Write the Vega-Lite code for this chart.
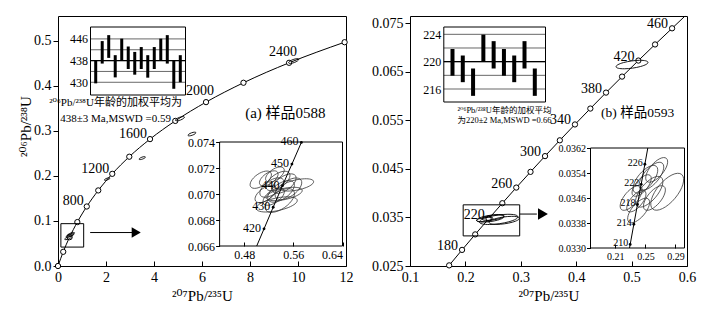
{
 "$schema": "https://vega.github.io/schema/vega-lite/v6.json",
 "padding": {"left": 17, "top": 13, "right": 5, "bottom": 4},
 "background": "white",
 "spacing": 64,
 "bounds": "flush",
 "config": {
  "view": {"stroke": "black", "strokeWidth": 1},
  "axis": {"labelFont": "Liberation Serif", "titleFont": "Liberation Serif, DejaVu Serif", "labelColor": "black", "titleColor": "black", "tickColor": "black", "domain": false, "grid": false, "titleFontWeight": "normal", "zindex": 1, "labelFontSize": 14, "titleFontSize": 15},
  "text": {"font": "Liberation Serif, DejaVu Serif, Noto Sans CJK SC", "color": "black"},
  "point": {"opacity": 1}
 },
 "datasets": {
  "concA": [
   {"age": 0, "x": 0, "y": 0},
   {"age": 200, "x": 0.2177, "y": 0.0315},
   {"age": 400, "x": 0.4828, "y": 0.0640},
   {"age": 600, "x": 0.8056, "y": 0.0975},
   {"age": 800, "x": 1.1988, "y": 0.1321},
   {"age": 1000, "x": 1.6774, "y": 0.1678},
   {"age": 1200, "x": 2.2603, "y": 0.2046},
   {"age": 1400, "x": 2.9701, "y": 0.2426},
   {"age": 1600, "x": 3.8344, "y": 0.2817},
   {"age": 1800, "x": 4.8867, "y": 0.3221},
   {"age": 2000, "x": 6.1681, "y": 0.3638},
   {"age": 2200, "x": 7.7284, "y": 0.4068},
   {"age": 2400, "x": 9.6283, "y": 0.4511},
   {"age": 2600, "x": 11.942, "y": 0.4968}
  ],
  "ellA": [
   {"x": 9.82, "y": 0.455, "w": 0.45},
   {"x": 5.08, "y": 0.327, "w": 0.4},
   {"x": 5.58, "y": 0.293, "w": 0.35},
   {"x": 3.51, "y": 0.2395, "w": 0.28},
   {"x": 2.05, "y": 0.193, "w": 0.25},
   {"x": 0.42, "y": 0.062, "w": 0.3},
   {"x": 0.5, "y": 0.068, "w": 0.35},
   {"x": 0.55, "y": 0.071, "w": 0.3}
  ],
  "boxA": [{"x": 0.12, "x2": 1.07, "y": 0.042, "y2": 0.094}],
  "arrowA": [{"x": 1.34, "y": 0.0743}, {"x": 3.12, "y": 0.0743}],
  "headA": [{"x": 3.26, "y": 0.0743}],
  "titleA": [{"x": 7.8, "y": 0.3405, "t": "(a) 样品0588"}],
  "capA": [
   {"x": 2.4, "y": 0.3623, "t": "²⁰⁶Pb/²³⁸U年龄的加权平均为"},
   {"x": 2.4, "y": 0.326, "t": "438±3 Ma,MSWD =0.59"}
  ],
  "barsA": [
   {"x": 1, "y": 429.6, "y2": 438},
   {"x": 2, "y": 436.9, "y2": 445.2},
   {"x": 3, "y": 439, "y2": 447.4},
   {"x": 4, "y": 431.8, "y2": 440},
   {"x": 5, "y": 438, "y2": 446.1},
   {"x": 6, "y": 434.9, "y2": 443.2},
   {"x": 7, "y": 432.8, "y2": 441.2},
   {"x": 8, "y": 434.9, "y2": 443},
   {"x": 9, "y": 431.7, "y2": 440},
   {"x": 10, "y": 434.9, "y2": 443},
   {"x": 11, "y": 438, "y2": 446.1},
   {"x": 12, "y": 436.9, "y2": 447.4},
   {"x": 13, "y": 427.6, "y2": 438},
   {"x": 14, "y": 430, "y2": 440}
  ],
  "gridA": [
   {"x": 0.2, "x2": 14.8, "y": 430},
   {"x": 0.2, "x2": 14.8, "y": 434},
   {"x": 0.2, "x2": 14.8, "y": 438},
   {"x": 0.2, "x2": 14.8, "y": 442},
   {"x": 0.2, "x2": 14.8, "y": 446}
  ],
  "meanA": [{"x": 0.2, "x2": 14.8, "y": 438}],
  "frameBarA": [{"x": 0.2, "x2": 14.8, "y": 425.3, "y2": 450.4}],
  "concIA": [
   {"age": 412, "x": 0.5004, "y": 0.066},
   {"age": 420, "x": 0.5123, "y": 0.06732},
   {"age": 430, "x": 0.5272, "y": 0.06898},
   {"age": 440, "x": 0.5423, "y": 0.07064},
   {"age": 450, "x": 0.5577, "y": 0.0723},
   {"age": 460, "x": 0.5731, "y": 0.07397}
  ],
  "ellIA": [
   {"x": 0.566, "y": 0.0707, "w": 0.055, "k": "f"},
   {"x": 0.533, "y": 0.0692, "w": 0.068, "k": "f"},
   {"x": 0.545, "y": 0.07, "w": 0.06, "k": "f"},
   {"x": 0.507, "y": 0.0711, "w": 0.04, "k": "r"},
   {"x": 0.525, "y": 0.0705, "w": 0.045, "k": "r"},
   {"x": 0.535, "y": 0.071, "w": 0.045, "k": "r"},
   {"x": 0.54, "y": 0.0702, "w": 0.05, "k": "r"},
   {"x": 0.528, "y": 0.0698, "w": 0.04, "k": "r"},
   {"x": 0.545, "y": 0.0708, "w": 0.045, "k": "r"},
   {"x": 0.52, "y": 0.0712, "w": 0.035, "k": "r"},
   {"x": 0.53, "y": 0.0715, "w": 0.035, "k": "r"},
   {"x": 0.515, "y": 0.07, "w": 0.04, "k": "r"},
   {"x": 0.552, "y": 0.0704, "w": 0.05, "k": "r"},
   {"x": 0.538, "y": 0.0695, "w": 0.055, "k": "r"}
  ],
  "frameIA": [{"x": 0.44, "x2": 0.64, "y": 0.066, "y2": 0.074}],
  "concB": [
   {"age": 160, "x": 0.17068, "y": 0.02513},
   {"age": 180, "x": 0.19396, "y": 0.028316},
   {"age": 200, "x": 0.21769, "y": 0.031511},
   {"age": 220, "x": 0.24193, "y": 0.034717},
   {"age": 240, "x": 0.26665, "y": 0.037932},
   {"age": 260, "x": 0.29183, "y": 0.041157},
   {"age": 280, "x": 0.31754, "y": 0.044392},
   {"age": 300, "x": 0.34374, "y": 0.047638},
   {"age": 320, "x": 0.37047, "y": 0.050893},
   {"age": 340, "x": 0.39776, "y": 0.054158},
   {"age": 360, "x": 0.42553, "y": 0.057434},
   {"age": 380, "x": 0.45385, "y": 0.060719},
   {"age": 400, "x": 0.48278, "y": 0.064016},
   {"age": 420, "x": 0.51225, "y": 0.067322},
   {"age": 440, "x": 0.54234, "y": 0.070638},
   {"age": 460, "x": 0.57307, "y": 0.073965},
   {"age": 475, "x": 0.5965, "y": 0.0765}
  ],
  "ellB": [
   {"x": 0.5008, "y": 0.0665, "w": 0.058},
   {"x": 0.245, "y": 0.0348, "w": 0.05},
   {"x": 0.26, "y": 0.0346, "w": 0.07},
   {"x": 0.25, "y": 0.035, "w": 0.04},
   {"x": 0.235, "y": 0.0346, "w": 0.03},
   {"x": 0.27, "y": 0.0344, "w": 0.055}
  ],
  "boxB": [{"x": 0.196, "x2": 0.298, "y": 0.0312, "y2": 0.0376}],
  "arrowB": [{"x": 0.298, "y": 0.0357}, {"x": 0.329, "y": 0.0357}],
  "headB": [{"x": 0.34, "y": 0.0357}],
  "titleB": [{"x": 0.4449, "y": 0.0565, "t": "(b) 样品0593"}],
  "capB": [
   {"x": 0.2705, "y": 0.0572, "t": "²⁰⁶Pb/²³⁸U年龄的加权平均"},
   {"x": 0.2705, "y": 0.0550, "t": "为220±2 Ma,MSWD =0.66"}
  ],
  "barsB": [
   {"x": 1, "y": 217.95, "y2": 221.85},
   {"x": 2, "y": 217.0, "y2": 220.9},
   {"x": 3, "y": 215.0, "y2": 219.0},
   {"x": 4, "y": 220.0, "y2": 223.95},
   {"x": 5, "y": 219.0, "y2": 223.0},
   {"x": 6, "y": 217.95, "y2": 221.85},
   {"x": 7, "y": 217.0, "y2": 220.9},
   {"x": 8, "y": 219.0, "y2": 223.0},
   {"x": 9, "y": 215.0, "y2": 219.0}
  ],
  "gridB": [
   {"x": 0.155, "x2": 10.04, "y": 216},
   {"x": 0.155, "x2": 10.04, "y": 218},
   {"x": 0.155, "x2": 10.04, "y": 220},
   {"x": 0.155, "x2": 10.04, "y": 222},
   {"x": 0.155, "x2": 10.04, "y": 224}
  ],
  "meanB": [{"x": 0.155, "x2": 10.04, "y": 220}],
  "frameBarB": [{"x": 0.155, "x2": 10.04, "y": 214.1, "y2": 225.07}],
  "concIB": [
   {"age": 209, "x": 0.2289, "y": 0.033},
   {"age": 210, "x": 0.22976, "y": 0.033114},
   {"age": 214, "x": 0.23463, "y": 0.03376},
   {"age": 218, "x": 0.23948, "y": 0.034396},
   {"age": 222, "x": 0.24437, "y": 0.035037},
   {"age": 226, "x": 0.24929, "y": 0.03568},
   {"age": 229, "x": 0.2532, "y": 0.0362}
  ],
  "ellIB": [
   {"x": 0.279, "y": 0.0348, "w": 0.06},
   {"x": 0.265, "y": 0.0355, "w": 0.04},
   {"x": 0.25, "y": 0.0352, "w": 0.045},
   {"x": 0.231, "y": 0.0346, "w": 0.04},
   {"x": 0.255, "y": 0.0348, "w": 0.05},
   {"x": 0.241, "y": 0.0342, "w": 0.04},
   {"x": 0.245, "y": 0.035, "w": 0.035},
   {"x": 0.258, "y": 0.0353, "w": 0.045},
   {"x": 0.238, "y": 0.0345, "w": 0.035},
   {"x": 0.262, "y": 0.0346, "w": 0.04}
  ],
  "frameIB": [{"x": 0.177, "x2": 0.302, "y": 0.033, "y2": 0.0362}]
 },
 "hconcat": [
  {
   "width": 288, "height": 250,
   "resolve": {"scale": {"x": "independent", "y": "independent", "size": "independent", "shape": "independent"}},
   "layer": [
    {
     "encoding": {
      "x": {"field": "x", "type": "quantitative", "scale": {"domain": [0, 12], "nice": false, "zero": false},
       "axis": {"orient": "bottom", "values": [0, 2, 4, 6, 8, 10, 12], "format": "d", "tickSize": -5, "labelPadding": 9, "labelFlush": false, "title": "²⁰⁷Pb/²³⁵U", "titlePadding": 4}},
      "y": {"field": "y", "type": "quantitative", "scale": {"domain": [0, 0.555], "nice": false, "zero": false},
       "axis": {"orient": "left", "values": [0, 0.1, 0.2, 0.3, 0.4, 0.5], "format": ".1f", "tickSize": 5, "labelPadding": 2, "title": "²⁰⁶Pb/²³⁸U", "titleX": -33, "titleY": 110, "titleBaseline": "middle", "titleAngle": 270}}
     },
     "layer": [
      {"data": {"name": "concA"}, "mark": {"type": "line", "interpolate": "monotone", "color": "black", "strokeWidth": 1}, "encoding": {}},
      {"data": {"name": "concA"}, "mark": {"type": "point", "shape": "circle", "filled": true, "fill": "white", "stroke": "black", "strokeWidth": 1, "size": 28}, "encoding": {}},
      {"data": {"name": "concA"}, "transform": [{"filter": "datum.age==800||datum.age==1200||datum.age==1600"}], "mark": {"type": "text", "align": "right", "baseline": "middle", "dx": -3, "dy": -5, "fontSize": 14}, "encoding": {"text": {"field": "age", "type": "nominal"}}},
      {"data": {"name": "concA"}, "transform": [{"filter": "datum.age==2000||datum.age==2400"}], "mark": {"type": "text", "align": "center", "baseline": "middle", "dx": -6, "dy": -11, "fontSize": 14}, "encoding": {"text": {"field": "age", "type": "nominal"}}},
      {"data": {"name": "ellA"}, "mark": {"type": "point", "shape": "M-0.94,0.342A1,0.3,-20,1,1,0.94,-0.342A1,0.3,-20,1,1,-0.94,0.342Z", "filled": false, "color": "black", "strokeWidth": 0.9}, "encoding": {"size": {"field": "w", "type": "quantitative", "scale": {"type": "pow", "exponent": 2, "domain": [0, 1], "range": [0, 571]}, "legend": null}}},
      {"data": {"name": "boxA"}, "mark": {"type": "rect", "filled": false, "color": "black", "strokeWidth": 1}, "encoding": {"x2": {"field": "x2"}, "y2": {"field": "y2"}}},
      {"data": {"name": "arrowA"}, "mark": {"type": "line", "color": "black", "strokeWidth": 1}, "encoding": {}},
      {"data": {"name": "headA"}, "mark": {"type": "point", "shape": "triangle-right", "filled": true, "color": "black", "size": 110}, "encoding": {}},
      {"data": {"name": "titleA"}, "mark": {"type": "text", "align": "left", "baseline": "middle", "fontSize": 15}, "encoding": {"text": {"field": "t"}}},
      {"data": {"name": "capA"}, "mark": {"type": "text", "align": "center", "baseline": "middle", "fontSize": 11}, "encoding": {"text": {"field": "t"}}}
     ]
    },
    {
     "encoding": {
      "x": {"field": "x", "type": "quantitative", "scale": {"domain": [0.2, 14.8], "range": [32.5, 127.5], "nice": false, "zero": false}, "axis": null},
      "y": {"field": "y", "type": "quantitative", "scale": {"domain": [425.3, 450.4], "range": [79, 11], "nice": false, "zero": false},
       "axis": {"orient": "left", "offset": -32.5, "values": [430, 438, 446], "ticks": false, "labelPadding": 3, "labelFontSize": 12, "title": null}}
     },
     "layer": [
      {"data": {"name": "gridA"}, "mark": {"type": "rule", "color": "black", "strokeWidth": 0.6}, "encoding": {"x2": {"field": "x2"}}},
      {"data": {"name": "meanA"}, "mark": {"type": "rule", "color": "black", "strokeWidth": 1.2}, "encoding": {"x2": {"field": "x2"}}},
      {"data": {"name": "frameBarA"}, "mark": {"type": "rect", "filled": false, "color": "black", "strokeWidth": 1}, "encoding": {"x2": {"field": "x2"}, "y2": {"field": "y2"}}},
      {"data": {"name": "barsA"}, "mark": {"type": "rule", "color": "black", "strokeWidth": 3}, "encoding": {"y2": {"field": "y2"}}}
     ]
    },
    {
     "encoding": {
      "x": {"field": "x", "type": "quantitative", "scale": {"domain": [0.44, 0.64], "range": [161.6, 284.5], "nice": false, "zero": false},
       "axis": {"orient": "bottom", "offset": -20, "values": [0.48, 0.56, 0.64], "format": ".2f", "tickSize": -4, "labelPadding": 7, "labelFontSize": 12, "labelFlush": true, "title": null}},
      "y": {"field": "y", "type": "quantitative", "scale": {"domain": [0.066, 0.074], "range": [230, 126], "nice": false, "zero": false},
       "axis": {"orient": "left", "offset": -161.6, "values": [0.066, 0.068, 0.07, 0.072, 0.074], "format": ".3f", "tickSize": 4, "labelPadding": 1, "labelFontSize": 12, "title": null}}
     },
     "layer": [
      {"data": {"name": "frameIA"}, "mark": {"type": "rect", "filled": false, "color": "black", "strokeWidth": 1}, "encoding": {"x2": {"field": "x2"}, "y2": {"field": "y2"}}},
      {"data": {"name": "ellIA"}, "mark": {"type": "point", "filled": false, "color": "#333", "strokeWidth": 0.8},
       "encoding": {
        "size": {"field": "w", "type": "quantitative", "scale": {"type": "pow", "exponent": 2, "domain": [0, 0.1], "range": [0, 3776]}, "legend": null},
        "shape": {"field": "k", "type": "nominal", "scale": {"domain": ["r", "f"], "range": ["M-0.819,0.574A1,0.5,-35,1,1,0.819,-0.574A1,0.5,-35,1,1,-0.819,0.574Z", "M-0.978,0.208A1,0.3,-12,1,1,0.978,-0.208A1,0.3,-12,1,1,-0.978,0.208Z"]}, "legend": null}}},
      {"data": {"name": "concIA"}, "mark": {"type": "line", "color": "black", "strokeWidth": 1}, "encoding": {}},
      {"data": {"name": "concIA"}, "transform": [{"filter": "datum.age>=420"}], "mark": {"type": "point", "shape": "circle", "filled": true, "color": "black", "size": 8}, "encoding": {}},
      {"data": {"name": "concIA"}, "transform": [{"filter": "datum.age>=420"}], "mark": {"type": "text", "align": "right", "baseline": "middle", "dx": -3, "dy": -1, "fontSize": 12}, "encoding": {"text": {"field": "age", "type": "nominal"}}}
     ]
    }
   ]
  },
  {
   "width": 277, "height": 250,
   "resolve": {"scale": {"x": "independent", "y": "independent", "size": "independent", "shape": "independent"}},
   "layer": [
    {
     "encoding": {
      "x": {"field": "x", "type": "quantitative", "scale": {"domain": [0.1, 0.6], "nice": false, "zero": false},
       "axis": {"orient": "bottom", "values": [0.1, 0.2, 0.3, 0.4, 0.5, 0.6], "format": ".1f", "tickSize": -5, "labelPadding": 9, "labelFlush": false, "title": "²⁰⁷Pb/²³⁵U", "titlePadding": 4}},
      "y": {"field": "y", "type": "quantitative", "scale": {"domain": [0.025, 0.0765], "nice": false, "zero": false},
       "axis": {"orient": "left", "values": [0.025, 0.035, 0.045, 0.055, 0.065, 0.075], "format": ".3f", "tickSize": 5, "labelPadding": 2, "title": null}}
     },
     "layer": [
      {"data": {"name": "concB"}, "mark": {"type": "line", "interpolate": "monotone", "color": "black", "strokeWidth": 1}, "encoding": {}},
      {"data": {"name": "concB"}, "transform": [{"filter": "datum.age<=460"}], "mark": {"type": "point", "shape": "circle", "filled": true, "fill": "white", "stroke": "black", "strokeWidth": 1, "size": 28}, "encoding": {}},
      {"data": {"name": "concB"}, "transform": [{"filter": "datum.age<=460 && (datum.age-180)%40==0"}], "mark": {"type": "text", "align": "right", "baseline": "middle", "dx": -4, "dy": -4, "fontSize": 14}, "encoding": {"text": {"field": "age", "type": "nominal"}}},
      {"data": {"name": "ellB"}, "mark": {"type": "point", "shape": "M-0.99,0.139A1,0.22,-8,1,1,0.99,-0.139A1,0.22,-8,1,1,-0.99,0.139Z", "filled": false, "color": "black", "strokeWidth": 0.9}, "encoding": {"size": {"field": "w", "type": "quantitative", "scale": {"type": "pow", "exponent": 2, "domain": [0, 0.1], "range": [0, 3069]}, "legend": null}}},
      {"data": {"name": "boxB"}, "mark": {"type": "rect", "filled": false, "color": "black", "strokeWidth": 1}, "encoding": {"x2": {"field": "x2"}, "y2": {"field": "y2"}}},
      {"data": {"name": "arrowB"}, "mark": {"type": "line", "color": "black", "strokeWidth": 1}, "encoding": {}},
      {"data": {"name": "headB"}, "mark": {"type": "point", "shape": "triangle-right", "filled": true, "color": "black", "size": 130}, "encoding": {}},
      {"data": {"name": "titleB"}, "mark": {"type": "text", "align": "left", "baseline": "middle", "fontSize": 13.5}, "encoding": {"text": {"field": "t"}}},
      {"data": {"name": "capB"}, "mark": {"type": "text", "align": "center", "baseline": "middle", "fontSize": 8.5}, "encoding": {"text": {"field": "t"}}}
     ]
    },
    {
     "encoding": {
      "x": {"field": "x", "type": "quantitative", "scale": {"domain": [0.155, 10.04], "range": [33.8, 135.5], "nice": false, "zero": false}, "axis": null},
      "y": {"field": "y", "type": "quantitative", "scale": {"domain": [214.1, 225.07], "range": [86, 11], "nice": false, "zero": false},
       "axis": {"orient": "left", "offset": -33.8, "values": [216, 220, 224], "ticks": false, "labelPadding": 3, "labelFontSize": 12, "title": null}}
     },
     "layer": [
      {"data": {"name": "gridB"}, "mark": {"type": "rule", "color": "black", "strokeWidth": 0.6}, "encoding": {"x2": {"field": "x2"}}},
      {"data": {"name": "meanB"}, "mark": {"type": "rule", "color": "black", "strokeWidth": 1.2}, "encoding": {"x2": {"field": "x2"}}},
      {"data": {"name": "frameBarB"}, "mark": {"type": "rect", "filled": false, "color": "black", "strokeWidth": 1}, "encoding": {"x2": {"field": "x2"}, "y2": {"field": "y2"}}},
      {"data": {"name": "barsB"}, "mark": {"type": "rule", "color": "black", "strokeWidth": 4}, "encoding": {"y2": {"field": "y2"}}}
     ]
    },
    {
     "encoding": {
      "x": {"field": "x", "type": "quantitative", "scale": {"domain": [0.177, 0.302], "range": [180.5, 274.5], "nice": false, "zero": false},
       "axis": {"orient": "bottom", "offset": -18, "values": [0.21, 0.25, 0.29], "format": ".2f", "tickSize": -4, "labelPadding": 7, "labelFontSize": 10, "labelFlush": false, "title": null}},
      "y": {"field": "y", "type": "quantitative", "scale": {"domain": [0.033, 0.0362], "range": [232, 132], "nice": false, "zero": false},
       "axis": {"orient": "left", "offset": -180.5, "values": [0.033, 0.0338, 0.0346, 0.0354, 0.0362], "format": ".4f", "tickSize": 4, "labelPadding": 1, "labelFontSize": 10, "title": null}}
     },
     "layer": [
      {"data": {"name": "frameIB"}, "mark": {"type": "rect", "filled": false, "color": "black", "strokeWidth": 1}, "encoding": {"x2": {"field": "x2"}, "y2": {"field": "y2"}}},
      {"data": {"name": "ellIB"}, "mark": {"type": "point", "shape": "M-0.643,0.766A1,0.45,-50,1,1,0.643,-0.766A1,0.45,-50,1,1,-0.643,0.766Z", "filled": false, "color": "#333", "strokeWidth": 0.8},
       "encoding": {"size": {"field": "w", "type": "quantitative", "scale": {"type": "pow", "exponent": 2, "domain": [0, 0.1], "range": [0, 5655]}, "legend": null}}},
      {"data": {"name": "concIB"}, "mark": {"type": "line", "color": "black", "strokeWidth": 1}, "encoding": {}},
      {"data": {"name": "concIB"}, "transform": [{"filter": "datum.age>=210 && datum.age<=226"}], "mark": {"type": "point", "shape": "circle", "filled": true, "color": "black", "size": 8}, "encoding": {}},
      {"data": {"name": "concIB"}, "transform": [{"filter": "datum.age>=210 && datum.age<=226"}], "mark": {"type": "text", "align": "right", "baseline": "middle", "dx": -2, "dy": -1, "fontSize": 10}, "encoding": {"text": {"field": "age", "type": "nominal"}}}
     ]
    }
   ]
  }
 ]
}
